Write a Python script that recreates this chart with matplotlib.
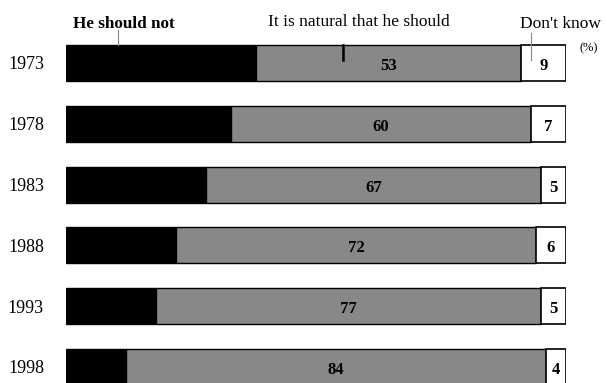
import matplotlib.pyplot as plt

# survey data (%)
years = ["1973", "1978", "1983", "1988", "1993", "1998"]
natural = [53, 60, 67, 72, 77, 84]
dont_know = [9, 7, 5, 6, 5, 4]
should_not = [100 - n - d for n, d in zip(natural, dont_know)]

headers = ["He should not", "It is natural that he should", "Don't know"]

plt.rcParams['font.family'] = ['Liberation Serif', 'DejaVu Serif']

fig = plt.figure(figsize=(6.07, 3.83), dpi=100)
ax = fig.add_axes([66 / 607, 0, 500 / 607, 1])
ax.set_xlim(0, 100)
ax.set_ylim(5.263, -1.036)
ax.axis('off')

ypos = list(range(len(years)))
h = 0.59
gray = '#888888'

ax.barh(ypos, should_not, height=h, color='black', edgecolor='black', linewidth=1)
ax.barh(ypos, natural, left=should_not, height=h, color=gray, edgecolor='black', linewidth=1)
left_dk = [a + b for a, b in zip(should_not, natural)]
ax.barh(ypos, dont_know, left=left_dk, height=h, color='white', edgecolor='black', linewidth=1.2)

for i, y in enumerate(ypos):
    ax.text(-4.4, y + 0.03, years[i], ha='right', va='center', fontsize=13)
    ax.text(should_not[i] + natural[i] / 2, y + 0.05, str(natural[i]), ha='center', va='center',
            fontsize=12, fontweight='bold')
    ax.text(left_dk[i] + dont_know[i] / 2, y + 0.05, str(dont_know[i]), ha='center', va='center',
            fontsize=12, fontweight='bold')

# header labels and leader lines
ax.text(1.4, -0.64, headers[0], ha='left', va='center', fontsize=12.3, fontweight='bold', clip_on=False)
ax.text(58.6, -0.68, headers[1], ha='center', va='center', fontsize=12.5, clip_on=False)
ax.text(98.8, -0.64, headers[2], ha='center', va='center', fontsize=12.5, clip_on=False)
ax.text(102.8, -0.25, "(%)", ha='left', va='center', fontsize=9, clip_on=False)

ax.plot([10.4, 10.4], [-0.55, -0.296], color='#888888', lw=0.8, clip_on=False)
ax.plot([55.4, 55.4], [-0.296, -0.05], color='black', lw=1.8, clip_on=False)
ax.plot([93, 93], [-0.5, -0.05], color='#888888', lw=0.8, clip_on=False)

fig.savefig("out.png", dpi=100)
